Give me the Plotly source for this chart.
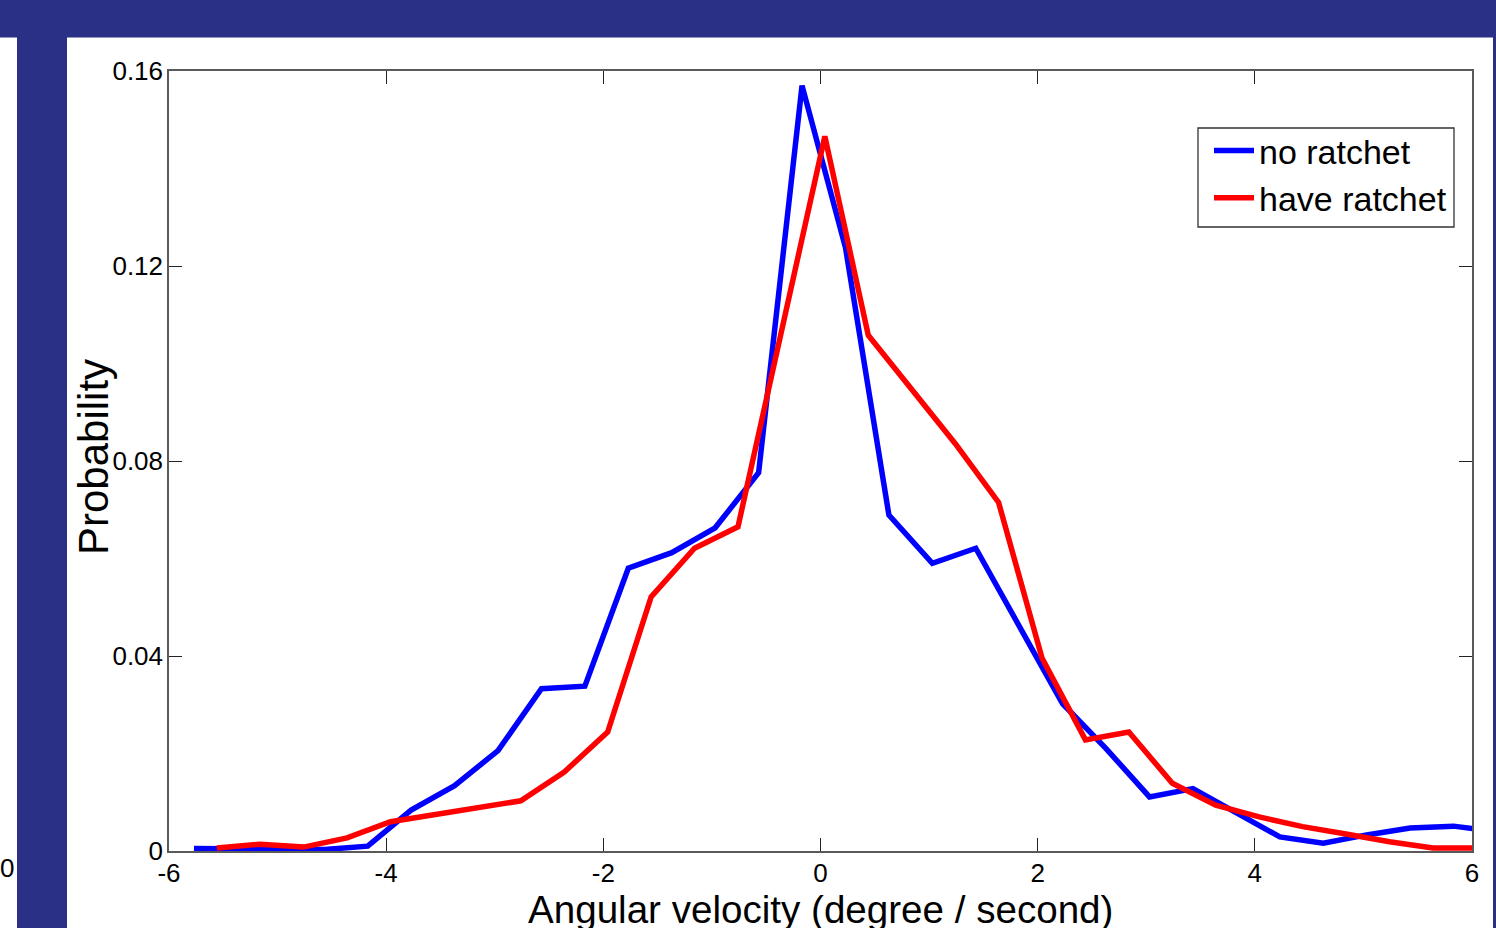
import plotly.graph_objects as go

# ---- data ----
no_ratchet_x = [-5.77, -5.37, -4.97, -4.57, -4.17, -3.77, -3.37, -2.97, -2.57, -2.17,
                -1.77, -1.37, -0.97, -0.57, -0.17, 0.23, 0.63, 1.03, 1.43, 1.83,
                2.23, 2.63, 3.03, 3.43, 3.83, 4.23, 4.63, 5.03, 5.43, 5.83, 6.23]
no_ratchet_y = [0.0005, 0.0004, 0.0002, 0.0003, 0.0010, 0.0084, 0.0134, 0.0206, 0.0333, 0.0338,
                0.0580, 0.0612, 0.0663, 0.0776, 0.1570, 0.1238, 0.0689, 0.0590, 0.0621, 0.0460,
                0.0302, 0.0210, 0.0111, 0.0128, 0.0080, 0.0029, 0.0016, 0.0033, 0.0047, 0.0051, 0.0040]

have_ratchet_x = [-5.56, -5.16, -4.76, -4.36, -3.96, -3.56, -3.16, -2.76, -2.36, -1.96,
                  -1.56, -1.16, -0.76, -0.36, 0.04, 0.44, 0.84, 1.24, 1.64, 2.04,
                  2.44, 2.84, 3.24, 3.64, 4.04, 4.44, 4.84, 5.24, 5.64, 6.04]
have_ratchet_y = [0.0006, 0.0014, 0.0008, 0.0027, 0.0060, 0.0074, 0.0088, 0.0103, 0.0162, 0.0244,
                  0.0521, 0.0621, 0.0665, 0.1065, 0.1466, 0.1058, 0.0949, 0.0836, 0.0715, 0.0396,
                  0.0228, 0.0244, 0.0139, 0.0094, 0.0070, 0.0050, 0.0035, 0.0019, 0.0006, 0.0006]

x_tick_vals = [-6, -4, -2, 0, 2, 4, 6]
x_tick_text = ["-6", "-4", "-2", "0", "2", "4", "6"]
y_tick_vals = [0, 0.04, 0.08, 0.12, 0.16]
y_tick_text = ["0", "0.04", "0.08", "0.12", "0.16"]

series_names = ["no ratchet", "have ratchet"]
x_title = "Angular velocity (degree / second)"
y_title = "Probability"

# ---- figure geometry ----
W, H = 1496, 928
L, R, T, B = 169, 1472, 71, 851   # plot area in pixels
NAVY = "#2B3087"
FONT = "Liberation Sans, Arial, sans-serif"


def px_x(p):
    return (p - L) / (R - L)


def px_y(p):
    return (B - p) / (B - T)


fig = go.Figure()
fig.add_trace(go.Scatter(x=no_ratchet_x, y=no_ratchet_y, mode="lines", name=series_names[0],
                         line=dict(color="#0000FF", width=5.5)))
fig.add_trace(go.Scatter(x=have_ratchet_x, y=have_ratchet_y, mode="lines", name=series_names[1],
                         line=dict(color="#FF0000", width=5.5)))

axis_common = dict(showline=True, linecolor="#5a5a5a", linewidth=1.5, mirror="ticks",
                   ticks="inside", ticklen=13, tickwidth=1.2, tickcolor="#222222",
                   showgrid=False, zeroline=False, automargin=False,
                   tickfont=dict(family=FONT, size=26, color="black"))

fig.update_xaxes(range=[-6, 6], tickvals=x_tick_vals, ticktext=x_tick_text,
                 ticklabelstandoff=-2, **axis_common)
fig.update_yaxes(range=[0, 0.16], tickvals=y_tick_vals, ticktext=y_tick_text,
                 ticklabelstandoff=-1, **axis_common)

shapes = [
    # top navy band
    dict(type="rect", xref="paper", yref="paper", x0=px_x(0), x1=px_x(W), y0=px_y(0), y1=px_y(37.5),
         fillcolor=NAVY, line=dict(width=0), layer="below"),
    # left navy strip
    dict(type="rect", xref="paper", yref="paper", x0=px_x(17), x1=px_x(67), y0=px_y(37), y1=px_y(H),
         fillcolor=NAVY, line=dict(width=0), layer="below"),
    # right navy strip
    dict(type="rect", xref="paper", yref="paper", x0=px_x(1493), x1=px_x(W), y0=px_y(37), y1=px_y(H),
         fillcolor=NAVY, line=dict(width=0), layer="below"),
    # legend frame
    dict(type="rect", xref="paper", yref="paper", x0=px_x(1198), x1=px_x(1454), y0=px_y(227), y1=px_y(128),
         fillcolor="white", line=dict(width=1.3, color="#333333"), layer="below"),
]

annotations = [
    dict(text="0", xref="paper", yref="paper", x=px_x(7), y=px_y(868), showarrow=False,
         xanchor="center", yanchor="middle", font=dict(family=FONT, size=26, color="black")),
    dict(text=x_title, xref="paper", yref="paper", x=px_x(820), y=px_y(909), showarrow=False,
         xanchor="center", yanchor="middle", font=dict(family=FONT, size=38.6, color="black")),
    dict(text=y_title, xref="paper", yref="paper", x=px_x(93), y=px_y(457), showarrow=False,
         textangle=-90, xanchor="center", yanchor="middle",
         font=dict(family=FONT, size=42, color="black")),
]

fig.update_layout(
    width=W, height=H,
    margin=dict(l=L, r=W - R, t=T, b=H - B, pad=0, autoexpand=False),
    paper_bgcolor="white", plot_bgcolor="white",
    shapes=shapes, annotations=annotations,
    showlegend=True,
    legend=dict(x=px_x(1452), y=px_y(122), xanchor="right", yanchor="top",
                bgcolor="rgba(0,0,0,0)", borderwidth=0,
                font=dict(family=FONT, size=34, color="black"),
                itemwidth=40, tracegroupgap=0),
)

fig.write_html("out.html", config={"displayModeBar": False},
               post_script="document.body.style.margin='0';document.body.style.overflow='hidden';")
